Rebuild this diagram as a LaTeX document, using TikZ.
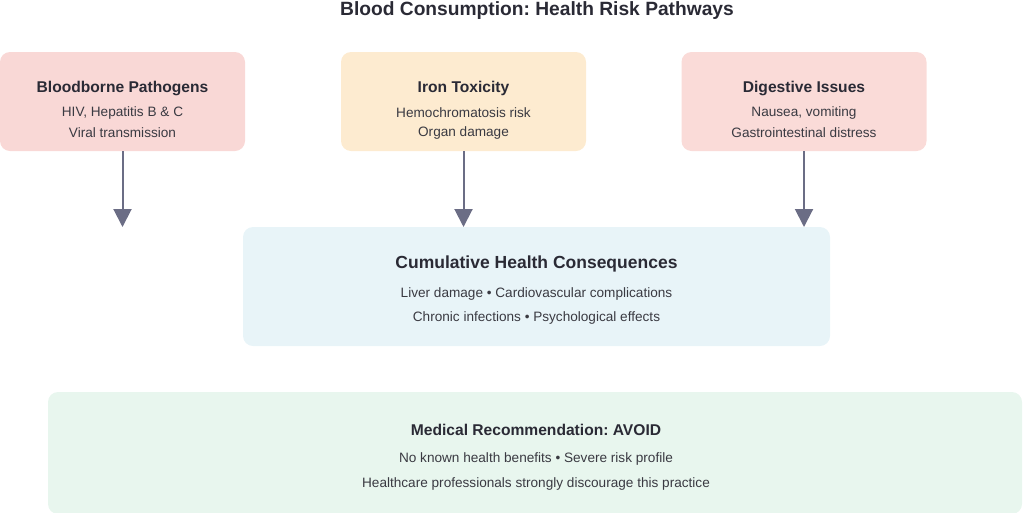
\documentclass[tikz,border=0pt]{standalone}
\usepackage{fontspec}
\setmainfont{Liberation Sans}
\usetikzlibrary{arrows.meta}
\frenchspacing
\definecolor{pathred}{HTML}{F9D8D6}
\definecolor{ironyel}{HTML}{FDEBD0}
\definecolor{digred}{HTML}{FADBD8}
\definecolor{cumblue}{HTML}{E8F4F8}
\definecolor{recgreen}{HTML}{E8F6EE}
\definecolor{arrowcol}{HTML}{6B6D85}
\definecolor{headcol}{HTML}{2A2A35}
\definecolor{bodycol}{HTML}{3A3A42}
\begin{document}
\begin{tikzpicture}[x=1pt,y=-1pt]
    \tikzset{
        box/.style={rounded corners=10pt, minimum width=245pt, minimum height=99pt, inner sep=0pt},
        head/.style={font=\bfseries\fontsize{15.6}{18}\selectfont, text=headcol, yshift=-1.8pt},
        body/.style={font=\fontsize{13.6}{16}\selectfont, text=bodycol, yshift=-1.8pt},
        flow/.style={-{Triangle[width=18pt,length=18pt]}, line width=2pt, draw=arrowcol},}
    \useasboundingbox (0,0) rectangle (1024,512);
    \node[head, font=\bfseries\fontsize{19.2}{22}\selectfont] (title) at (537,9) {Blood Consumption: Health Risk Pathways};
    % three risk boxes
    \node[box, fill=pathred] (patho) at (122.5,101.5) {};
    \node[box, fill=ironyel] (iron) at (463.5,101.5) {};
    \node[box, fill=digred] (dig) at (804,101.5) {};
    \node[head] (pathohead) at (122.5,87) {Bloodborne Pathogens};
    \node[body] (patho1) at (122.5,111) {HIV, Hepatitis B \& C};
    \node[body] (patho2) at (122.5,131) {Viral transmission};
    \node[head] (ironhead) at (463.5,87) {Iron Toxicity};
    \node[body] (iron1) at (463.5,111) {Hemochromatosis risk};
    \node[body] (iron2) at (463.5,131) {Organ damage};
    \node[head] (dighead) at (804,87) {Digestive Issues};
    \node[body] (dig1) at (804,111) {Nausea, vomiting};
    \node[body] (dig2) at (804,131) {Gastrointestinal distress};
    % consequences
    \node[box, fill=cumblue, minimum width=587pt, minimum height=119pt] (cum) at (536.5,286.5) {};
    \node[head, font=\bfseries\fontsize{17.5}{20}\selectfont] (cumhead) at (536.5,262) {Cumulative Health Consequences};
    \node[body] (cum1) at (536.5,292) {Liver damage • Cardiovascular complications};
    \node[body] (cum2) at (536.5,316) {Chronic infections • Psychological effects};
    % recommendation
    \node[box, fill=recgreen, minimum width=974pt, minimum height=122pt] (rec) at (535,453) {};
    \node[head] (rechead) at (536,428) {Medical Recommendation: AVOID};
    \node[body] (rec1) at (536,457) {No known health benefits • Severe risk profile};
    \node[body] (rec2) at (536,482) {Healthcare professionals strongly discourage this practice};
    % arrows
    \coordinate (pathoend) at (122.5,227);
    \coordinate (ironend) at (463.5,227);
    \coordinate (digend) at (804,227);
    \draw[flow] (patho) -- (pathoend);
    \draw[flow] (iron) -- (ironend);
    \draw[flow] (dig) -- (digend);
\end{tikzpicture}
\end{document}
